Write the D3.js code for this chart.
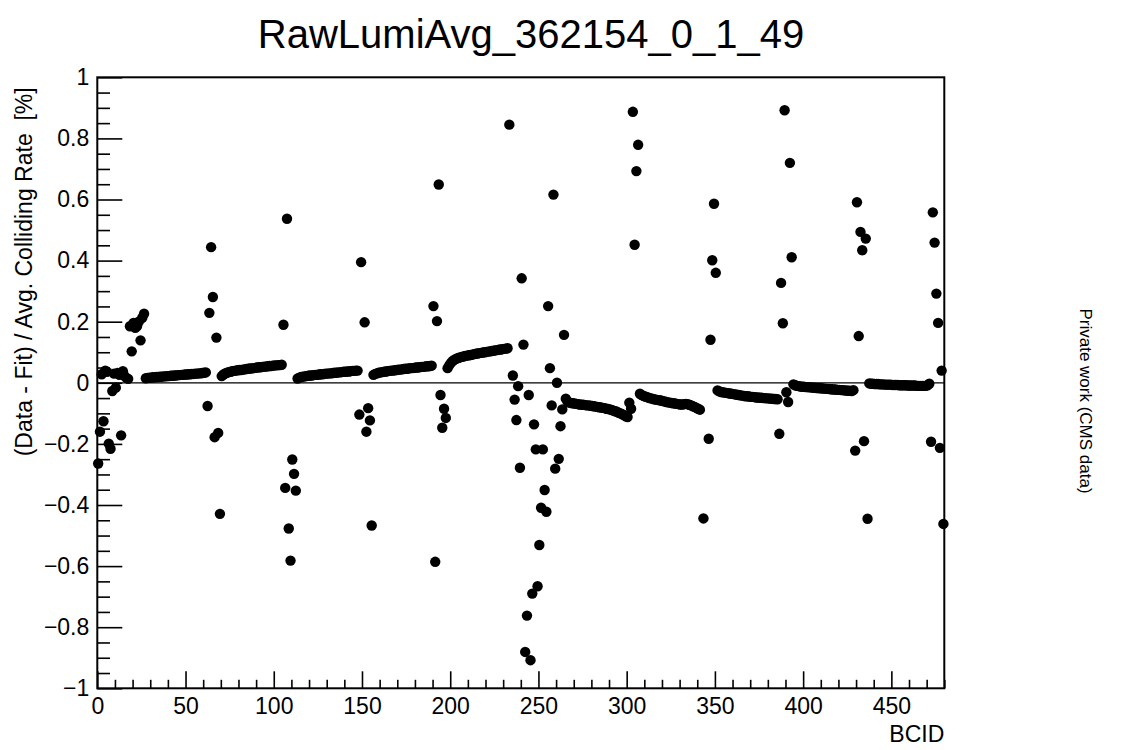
<!DOCTYPE html>
<html>
<head>
<meta charset="utf-8">
<script src="https://cdn.jsdelivr.net/npm/d3@7"></script>
<style>
  html, body { margin: 0; padding: 0; background: #fff; }
  svg { display: block; font-family: "Liberation Sans", Arial, Helvetica, sans-serif; }
  .pre { white-space: pre; }
</style>
</head>
<body>
<svg id="chart" width="1121" height="750"></svg>
<script>
// ---- Data: (Data - Fit) / Avg. Colliding Rate [%] per BCID, blocks of 48 BCIDs ----
const chartTitle = "RawLumiAvg_362154_0_1_49";
const xTitle = "BCID";
const yTitle = "(Data - Fit) / Avg. Colliding Rate  [%]";
const sideNote = "Private work (CMS data)";

const xTickValues = [0, 50, 100, 150, 200, 250, 300, 350, 400, 450];
const yTickValues = [-1, -0.8, -0.6, -0.4, -0.2, 0, 0.2, 0.4, 0.6, 0.8, 1];
const yTickLabels = ["\u22121", "\u22120.8", "\u22120.6", "\u22120.4", "\u22120.2", "0", "0.2", "0.4", "0.6", "0.8", "1"];

const bcid000 = [ // BCID 0-47
  -0.264, -0.160, 0.028, -0.126, 0.040, 0.036, -0.199, -0.216, -0.027, 0.030, -0.016, 0.032,
  0.026, -0.172, 0.038, 0.022, 0.016, 0.013, 0.185, 0.103, 0.196, 0.180, 0.185, 0.200,
  0.139, 0.213, 0.226, 0.015, 0.016, 0.017, 0.017, 0.018, 0.018, 0.019, 0.019, 0.020,
  0.020, 0.021, 0.021, 0.022, 0.022, 0.023, 0.023, 0.024, 0.024, 0.025, 0.025, 0.026];
const bcid048 = [ // BCID 48-95
  0.026, 0.027, 0.027, 0.028, 0.028, 0.029, 0.029, 0.030, 0.030, 0.031, 0.031, 0.032,
  0.033, 0.034, -0.076, 0.229, 0.444, 0.281, -0.178, 0.148, -0.164, -0.429, 0.022, 0.027,
  0.031, 0.033, 0.035, 0.036, 0.038, 0.039, 0.040, 0.041, 0.042, 0.042, 0.043, 0.044,
  0.045, 0.046, 0.047, 0.047, 0.048, 0.049, 0.050, 0.051, 0.051, 0.052, 0.053, 0.053];
const bcid096 = [ // BCID 96-143
  0.054, 0.055, 0.055, 0.056, 0.057, 0.057, 0.058, 0.058, 0.059, 0.190, -0.344, 0.537,
  -0.477, -0.582, -0.251, -0.298, -0.353, 0.014, 0.017, 0.019, 0.020, 0.021, 0.022, 0.023,
  0.024, 0.024, 0.025, 0.026, 0.026, 0.027, 0.028, 0.028, 0.029, 0.030, 0.030, 0.031,
  0.031, 0.032, 0.033, 0.033, 0.034, 0.034, 0.035, 0.036, 0.036, 0.037, 0.037, 0.038];
const bcid144 = [ // BCID 144-191
  0.039, 0.039, 0.040, 0.040, -0.104, 0.395, null, 0.198, -0.160, -0.083, -0.123, -0.467,
  0.026, 0.029, 0.031, 0.033, 0.034, 0.035, 0.036, 0.037, 0.038, 0.039, 0.040, 0.040,
  0.041, 0.042, 0.043, 0.043, 0.044, 0.045, 0.046, 0.046, 0.047, 0.048, 0.048, 0.049,
  0.050, 0.050, 0.051, 0.052, 0.052, 0.053, 0.054, 0.054, 0.055, 0.056, 0.251, -0.586];
const bcid192 = [ // BCID 192-239
  0.202, 0.649, -0.040, -0.147, -0.085, -0.115, 0.048, 0.058, 0.066, 0.072, 0.076, 0.079,
  0.081, 0.083, 0.085, 0.086, 0.088, 0.089, 0.090, 0.091, 0.092, 0.094, 0.095, 0.096,
  0.097, 0.098, 0.099, 0.100, 0.101, 0.102, 0.103, 0.104, 0.105, 0.106, 0.107, 0.108,
  0.109, 0.110, 0.111, 0.112, 0.113, 0.845, null, 0.024, -0.055, -0.122, -0.011, -0.278];
const bcid240 = [ // BCID 240-287
  0.342, 0.125, -0.881, -0.762, -0.040, -0.908, -0.690, -0.136, -0.218, -0.666, -0.531, -0.409,
  -0.218, -0.351, -0.422, 0.251, 0.048, -0.074, 0.616, -0.281, 0.000, -0.249, -0.142, -0.087,
  0.157, -0.052, -0.062, -0.065, -0.066, -0.067, -0.068, -0.069, -0.070, -0.071, -0.072, -0.072,
  -0.073, -0.074, -0.074, -0.075, -0.076, -0.077, -0.078, -0.079, -0.080, -0.081, -0.082, -0.083];
const bcid288 = [ // BCID 288-335
  -0.085, -0.086, -0.087, -0.089, -0.091, -0.093, -0.095, -0.098, -0.100, -0.103, -0.106, -0.110,
  -0.112, -0.065, -0.085, 0.887, 0.452, 0.693, 0.779, -0.036, -0.040, -0.043, -0.045, -0.047,
  -0.049, -0.051, -0.052, -0.054, -0.055, -0.056, -0.057, -0.058, -0.060, -0.061, -0.063, -0.064,
  -0.065, -0.066, -0.067, -0.068, -0.069, -0.070, -0.071, -0.071, -0.070, -0.069, -0.070, -0.072];
const bcid336 = [ // BCID 336-383
  -0.074, -0.077, -0.079, -0.082, -0.085, -0.088, null, -0.444, null, null, -0.183, 0.141,
  0.401, 0.586, 0.360, -0.025, -0.028, -0.030, -0.031, -0.032, -0.033, -0.034, -0.035, -0.036,
  -0.037, -0.038, -0.039, -0.040, -0.041, -0.042, -0.043, -0.044, -0.044, -0.045, -0.046, -0.046,
  -0.047, -0.048, -0.048, -0.049, -0.049, -0.050, -0.050, -0.051, -0.051, -0.052, -0.052, -0.053];
const bcid384 = [ // BCID 384-431
  -0.053, -0.054, -0.167, 0.327, 0.195, 0.892, -0.031, -0.063, 0.720, 0.411, -0.005, -0.008,
  -0.010, -0.011, -0.012, -0.013, -0.013, -0.014, -0.014, -0.015, -0.015, -0.016, -0.016, -0.017,
  -0.017, -0.018, -0.018, -0.019, -0.019, -0.020, -0.020, -0.021, -0.021, -0.022, -0.022, -0.023,
  -0.023, -0.024, -0.024, -0.025, -0.025, -0.026, -0.026, -0.027, -0.024, -0.222, 0.591, 0.153];
const bcid432 = [ // BCID 432-479
  0.494, 0.434, -0.191, 0.472, -0.445, -0.002, -0.003, -0.003, -0.004, -0.004, -0.004, -0.005,
  -0.005, -0.005, -0.006, -0.006, -0.006, -0.006, -0.007, -0.007, -0.007, -0.007, -0.008, -0.008,
  -0.008, -0.008, -0.008, -0.009, -0.009, -0.009, -0.009, -0.009, -0.010, -0.010, -0.010, -0.010,
  -0.010, -0.010, -0.008, -0.003, -0.193, 0.558, 0.459, 0.292, 0.196, -0.213, 0.040, -0.462];

const blockStarts = [0, 48, 96, 144, 192, 240, 288, 336, 384, 432];
const blocks = [bcid000, bcid048, bcid096, bcid144, bcid192, bcid240, bcid288, bcid336, bcid384, bcid432];

const points = [];
blocks.forEach((arr, bi) => arr.forEach((v, j) => {
  if (v !== null) points.push({ bcid: blockStarts[bi] + j, value: v });
}));

// ---- Layout ----
const plot = { left: 97.3, right: 944.3, top: 77.3, bottom: 688.3 };

const svg = d3.select("#chart");
const x = d3.scaleLinear().domain([0, 480]).range([plot.left, plot.right]);
const y = d3.scaleLinear().domain([-1, 1]).range([plot.bottom, plot.top]);

// frame
svg.append("rect")
  .attr("x", plot.left).attr("y", plot.top)
  .attr("width", plot.right - plot.left).attr("height", plot.bottom - plot.top)
  .attr("fill", "none").attr("stroke", "#000").attr("stroke-width", 2);

// zero line
svg.append("line")
  .attr("x1", plot.left).attr("x2", plot.right)
  .attr("y1", y(0)).attr("y2", y(0))
  .attr("stroke", "#000").attr("stroke-width", 1.3);

// x axis: major + minor ticks pointing inward
const xMinor = d3.range(0, 481, 10).filter(v => v % 50 !== 0);
const xAxisMajor = d3.axisBottom(x).tickValues(xTickValues).tickSize(-17).tickPadding(9).tickFormat(d3.format("d"));
const xAxisMinor = d3.axisBottom(x).tickValues(xMinor).tickSize(-8.5).tickFormat("");
const gxMin = svg.append("g").attr("transform", `translate(0,${plot.bottom})`).call(xAxisMinor);
const gx = svg.append("g").attr("transform", `translate(0,${plot.bottom})`).call(xAxisMajor);
[gx, gxMin].forEach(g => {
  g.select(".domain").remove();
  g.selectAll(".tick line").attr("stroke", "#000").attr("stroke-width", 1.6);
});
gx.selectAll(".tick text").attr("font-size", 23).attr("fill", "#000")
  .attr("font-family", "Liberation Sans, Arial, sans-serif");

// y axis
const yMinor = d3.range(-100, 101, 5).map(v => v / 100).filter(v => Math.round(v * 100) % 20 !== 0);
const yAxisMajor = d3.axisLeft(y).tickValues(yTickValues).tickSize(-25).tickPadding(8)
  .tickFormat((d, i) => yTickLabels[i]);
const yAxisMinor = d3.axisLeft(y).tickValues(yMinor).tickSize(-12.7).tickFormat("");
const gyMin = svg.append("g").attr("transform", `translate(${plot.left},0)`).call(yAxisMinor);
const gy = svg.append("g").attr("transform", `translate(${plot.left},0)`).call(yAxisMajor);
[gy, gyMin].forEach(g => {
  g.select(".domain").remove();
  g.selectAll(".tick line").attr("stroke", "#000").attr("stroke-width", 1.6);
});
gy.selectAll(".tick text").attr("font-size", 23).attr("fill", "#000")
  .attr("font-family", "Liberation Sans, Arial, sans-serif");

// points
svg.append("g").selectAll("circle").data(points).join("circle")
  .attr("cx", d => x(d.bcid + 0.5))
  .attr("cy", d => y(d.value))
  .attr("r", 5.2)
  .attr("fill", "#000");

// title
svg.append("text")
  .attr("x", 531).attr("y", 48)
  .attr("text-anchor", "middle")
  .attr("font-size", 40)
  .attr("fill", "#000")
  .text(chartTitle);

// x title
svg.append("text")
  .attr("x", plot.right).attr("y", 742)
  .attr("text-anchor", "end")
  .attr("font-size", 23)
  .attr("fill", "#000")
  .text(xTitle);

// y title (aligned to top end of axis, as ROOT does)
svg.append("text")
  .attr("class", "pre")
  .attr("transform", `translate(32,${plot.top + 10}) rotate(-90)`)
  .attr("text-anchor", "end")
  .attr("font-size", 23)
  .attr("fill", "#000")
  .text(yTitle);

// side note
svg.append("text")
  .attr("transform", `translate(1080,401) rotate(90)`)
  .attr("text-anchor", "middle")
  .attr("font-size", 17)
  .attr("fill", "#000")
  .text(sideNote);
</script>
</body>
</html>
